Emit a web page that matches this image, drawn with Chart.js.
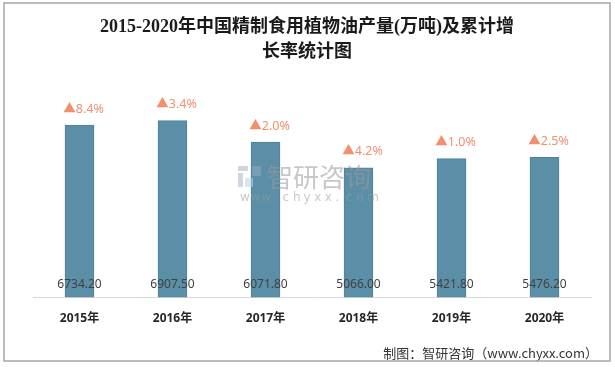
<!DOCTYPE html>
<html>
<head>
<meta charset="utf-8">
<script src="https://cdn.jsdelivr.net/npm/chart.js@4.4.0/dist/chart.umd.min.js"></script>
<style>
  html, body { margin: 0; padding: 0; background: #fff; }
  #wrap { width: 615px; height: 367px; position: relative; }
</style>
</head>
<body>
<div id="wrap"><canvas id="oilChart" width="615" height="367"></canvas></div>
<script>
const years = ['2015年', '2016年', '2017年', '2018年', '2019年', '2020年'];
const output = [6734.20, 6907.50, 6071.80, 5066.00, 5421.80, 5476.20];
const growth = ['8.4%', '3.4%', '2.0%', '4.2%', '1.0%', '2.5%'];
const titleLines = ['2015-2020年中国精制食用植物油产量(万吨)及累计增', '长率统计图'];
const sourceText = '制图：智研咨询（www.chyxx.com）';

const barColor = '#5b8fa7';

// title, source, frame, watermark and bar labels
const decor = {
    id: 'decor',
    afterDatasetsDraw(chart) {
        const c = chart.ctx;
        const meta = chart.getDatasetMeta(0);
        c.save();

        // watermark
        c.globalAlpha = 0.55;
        c.fillStyle = '#a9b4c6';
        c.fillRect(238, 166, 10, 5);
        c.fillRect(238, 173, 5, 14);
        c.fillStyle = '#bcd3e6';
        c.fillRect(245, 178, 8, 9);
        c.fillStyle = '#8fa6c2';
        c.fillRect(252, 166, 9, 10);
        c.fillStyle = '#999';
        c.font = '26px "Noto Sans CJK SC"';
        c.textBaseline = 'middle';
        c.textAlign = 'left';
        c.fillText('智研咨询', 267, 177);
        c.font = '12px "DejaVu Sans"';
        const wm = 'www.chyxx.com';
        for (let i = 0; i < wm.length; i++) {
            c.fillText(wm[i], 240 + i * 10.6, 198);
        }
        c.globalAlpha = 1;

        // values inside bars and growth above bars
        c.textAlign = 'center';
        meta.data.forEach((bar, i) => {
            c.fillStyle = '#404040';
            c.font = '12px "Noto Sans", "Open Sans"';
            c.textBaseline = 'middle';
            c.fillText(output[i].toFixed(2), bar.x, bar.base - 13);

            c.fillStyle = '#f0906f';
            c.font = '12.5px "Noto Sans", "Noto Sans CJK SC"';
            c.fillText('▲' + growth[i], bar.x + 4, bar.y - 16);
        });

        c.restore();
    },
    afterDraw(chart) {
        const c = chart.ctx;
        c.save();
        c.fillStyle = '#1a1a1a';
        c.textAlign = 'center';
        c.textBaseline = 'middle';
        c.font = 'bold 18px "Liberation Serif", "Noto Sans CJK SC"';
        c.fillText(titleLines[0], 307, 27);
        c.fillText(titleLines[1], 307, 52);

        c.fillStyle = '#333';
        c.textAlign = 'right';
        c.font = '13px "Noto Sans CJK SC"';
        c.fillText(sourceText, 598, 353);

        c.strokeStyle = '#a6a6a6';
        c.lineWidth = 1.5;
        c.strokeRect(4, 3, 606, 358);
        c.restore();
    }
};

const chart = new Chart(document.getElementById('oilChart').getContext('2d'), {
    type: 'bar',
    data: {
        labels: years,
        datasets: [{
            label: '产量',
            data: output,
            backgroundColor: barColor,
            borderColor: '#4f8198',
            borderWidth: 1,
            borderDash: [2, 2],
            barThickness: 29
        }]
    },
    options: {
        responsive: false,
        animation: false,
        layout: { padding: { top: 90, left: 33, right: 24, bottom: 27 } },
        plugins: {
            legend: { display: false },
            tooltip: { enabled: false }
        },
        scales: {
            x: {
                grid: { display: false, drawTicks: false },
                border: { color: '#d9d9d9', width: 1 },
                ticks: {
                    color: '#262626',
                    padding: 14,
                    font: { family: '"Noto Sans", "Noto Sans CJK SC"', size: 12, weight: 'bold' }
                }
            },
            y: {
                display: false,
                min: 0,
                max: 8100
            }
        }
    },
    plugins: [decor]
});
</script>
</body>
</html>
